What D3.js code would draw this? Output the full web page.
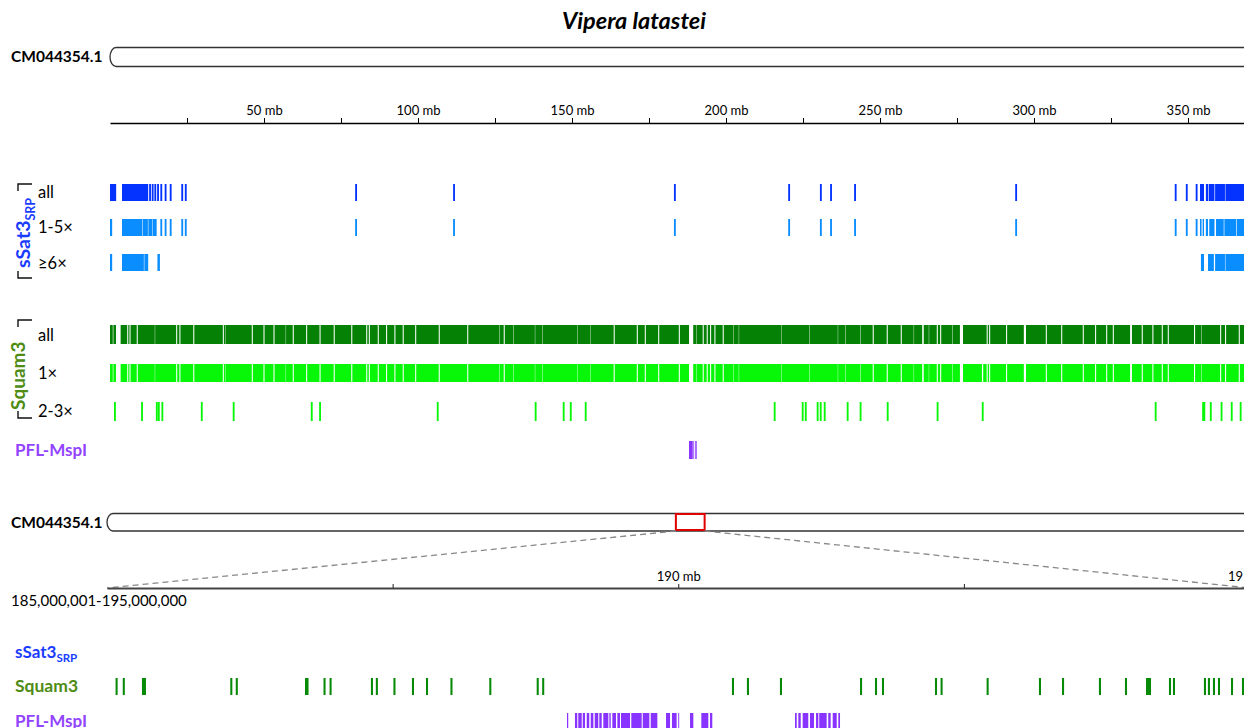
<!DOCTYPE html>
<html>
<head>
<meta charset="utf-8">
<script src="https://cdn.jsdelivr.net/npm/d3@7"></script>
<style>
  html, body { margin: 0; padding: 0; background: #fff; overflow: hidden; }
  svg { display: block; font-family: Lato, "Open Sans", sans-serif; }
</style>
</head>
<body>
<svg id="chart" width="1244" height="728"></svg>
<script>
// ---- data (positions in mb) ----
const chromName = 'CM044354.1';
const speciesName = 'Vipera latastei';
const chromLength = 385;
const zoomRegion = [185, 195];
const zoomRegionLabel = '185,000,001-195,000,000';

const topTickValues = [25, 50, 75, 100, 125, 150, 175, 200, 225, 250, 275, 300, 325, 350, 375];
const topTickLabeled = [50, 100, 150, 200, 250, 300, 350];
const zoomTickValues = [187.5, 190, 192.5, 195];
const zoomTickLabeled = [190, 195];

const sSat3RowLabels = ['all', '1-5×', '≥6×'];
const squam3RowLabels = ['all', '1×', '2-3×'];

const sSat3All = [[0, 2.0], [3.9, 12.4], [12.7, 13.3], [13.55, 14.15], [14.4, 15.0], [15.3, 15.9],
  [16.35, 16.95], [17.75, 18.35], [19.4, 20.0], [23.15, 23.75], [24.3, 24.9], [79.6, 80.2],
  [111.4, 112.0], [183.1, 183.7], [220.2, 220.8], [230.5, 231.1], [233.8, 234.4], [241.6, 242.2],
  [293.9, 294.5], [345.7, 346.3], [349.3, 349.9], [352.5, 353.1], [353.9, 355.2], [355.8, 356.5],
  [356.7, 358.6], [358.8, 362.0], [362.15, 375]];

const sSat3Low = [[0, 0.7], [3.9, 10.5], [10.65, 12.3], [12.45, 13.8], [13.95, 15.15], [16.35, 16.95],
  [17.75, 18.35], [19.4, 20.0], [23.15, 23.75], [24.3, 24.9], [79.6, 80.2], [111.4, 112.0],
  [183.1, 183.7], [220.2, 220.8], [230.5, 231.1], [233.8, 234.4], [241.6, 242.2], [293.9, 294.5],
  [345.7, 346.3], [349.3, 349.9], [352.5, 353.1], [353.9, 354.4], [354.75, 355.2], [355.8, 356.5],
  [356.9, 358.6], [359.1, 361.6], [361.8, 365.6], [365.8, 375]];

const sSat3High = [[0, 0.7], [3.9, 11.0], [11.15, 12.4], [15.4, 16.2], [354.2, 355.2], [356.5, 358.4],
  [358.8, 362.0], [362.15, 375]];

// Squam3 covers nearly the whole chromosome; listed here are the uncovered stretches
const squam3Span = [0, 375];
const squam3AllGaps = [[0.9, 1.1], [1.95, 3.45], [5.58, 5.92], [6.33, 6.67], [8.68, 9.02], [14.54, 14.66],
  [21.48, 21.82], [22.53, 22.87], [27.03, 27.37], [36.63, 36.97], [37.54, 37.66], [46.03, 46.37],
  [49.83, 50.17], [53.08, 53.42], [57.04, 57.16], [59.33, 59.67], [63.68, 64.02], [68.03, 68.37],
  [72.63, 72.97], [78.33, 78.67], [83.18, 83.52], [84.03, 84.37], [86.93, 87.27], [89.63, 89.97],
  [92.33, 92.67], [95.03, 95.37], [99.08, 99.42], [106.73, 107.07], [115.98, 116.32], [126.34, 126.46],
  [127.83, 128.17], [130.89, 131.01], [137.94, 138.06], [140.29, 140.41], [151.64, 151.76],
  [156.04, 156.16], [163.53, 163.87], [171.03, 171.37], [173.63, 173.97], [177.98, 178.32],
  [184.68, 185.02], [188.0, 189.35], [190.44, 190.56], [192.43, 192.77], [193.73, 194.07],
  [194.83, 195.17], [196.23, 196.57], [198.93, 199.27], [202.29, 202.41], [204.14, 204.26],
  [218.04, 218.16], [226.99, 227.11], [236.29, 236.41], [238.79, 238.91], [243.64, 243.76],
  [247.63, 247.97], [252.18, 252.52], [256.73, 257.07], [260.94, 261.06], [263.7, 264.2],
  [265.84, 265.96], [268.43, 268.77], [269.53, 269.87], [273.54, 273.66], [275.95, 276.95],
  [284.63, 284.97], [285.43, 285.77], [290.93, 291.27], [296.7, 297.4], [303.83, 304.17],
  [308.83, 309.17], [315.83, 316.17], [319.83, 320.17], [323.43, 323.77], [325.58, 325.92],
  [331.2, 331.8], [334.98, 335.32], [338.43, 338.77], [341.48, 341.82], [343.43, 343.77],
  [351.95, 352.3], [354.39, 354.51], [360.43, 360.77], [362.03, 362.37], [366.48, 366.82]];
const squam3OneExtraGaps = [[283.1, 283.5]];

const squam3Multi = [[1.3, 1.9], [10.1, 10.7], [14.9, 15.5], [15.55, 16.15], [16.7, 17.3], [29.5, 30.1],
  [39.85, 40.45], [65.2, 65.8], [67.9, 68.5], [106.1, 106.7], [137.9, 138.5], [147.0, 147.6],
  [149.3, 149.9], [154.15, 154.75], [215.5, 216.1], [224.6, 225.2], [225.6, 226.2], [229.45, 230.05],
  [230.45, 231.05], [231.75, 232.35], [239.2, 239.8], [243.4, 244.0], [252.2, 252.8], [268.4, 269.0],
  [283.05, 283.65], [339.2, 339.8], [354.6, 355.6], [357.1, 357.7], [360.6, 361.2], [363.9, 364.5],
  [366.8, 367.4]];

const pflOverview = [[188.0, 189.2], [189.4, 189.65], [190.03, 190.26], [190.36, 190.58]];

// zoomed window 185-195 mb
const squam3Detail = [[185.075, 185.093], [185.138, 185.156], [185.306, 185.341], [186.079, 186.097],
  [186.127, 186.145], [186.733, 186.764], [186.895, 186.913], [186.948, 186.966], [187.310, 187.328],
  [187.353, 187.371], [187.507, 187.525], [187.669, 187.687], [187.792, 187.810], [188.006, 188.024],
  [188.346, 188.364], [188.761, 188.779], [188.809, 188.827], [190.470, 190.488], [190.601, 190.619],
  [190.890, 190.908], [191.591, 191.609], [191.722, 191.740], [191.783, 191.801], [192.247, 192.265],
  [192.296, 192.314], [192.699, 192.717], [193.157, 193.175], [193.359, 193.377], [193.682, 193.700],
  [193.910, 193.928], [194.094, 194.138], [194.295, 194.313], [194.330, 194.348], [194.601, 194.619],
  [194.636, 194.654], [194.680, 194.698], [194.724, 194.742], [194.838, 194.856], [194.934, 194.952]];

const pflDetail = [[189.026, 189.037], [189.096, 189.116], [189.125, 189.155], [189.164, 189.184],
  [189.199, 189.221], [189.234, 189.257], [189.269, 189.300], [189.309, 189.330], [189.344, 189.388],
  [189.397, 189.409], [189.423, 189.455], [189.467, 189.490], [189.499, 189.578], [189.589, 189.680],
  [189.689, 189.747], [189.759, 189.817], [189.893, 189.928], [189.945, 189.986], [190.000, 190.008],
  [190.103, 190.132], [190.202, 190.263], [190.278, 190.298], [191.022, 191.037], [191.051, 191.072],
  [191.089, 191.138], [191.153, 191.188], [191.206, 191.226], [191.234, 191.299], [191.313, 191.334],
  [191.352, 191.387], [191.401, 191.416]];

// ---- colours ----
const C = {
  sSat3Label: '#1a3cff', sSat3All: '#0433ff', sSat3Sub: '#0a8dff',
  squam3Label: '#4e8c14', squam3All: '#058205', squam3Sub: '#08f708',
  pflLabel: '#9244ff', pfl: '#8833ff', squam3Detail: '#078a07'
};

const svg = d3.select('#chart');
const x = d3.scaleLinear().domain([0, chromLength]).range([110, 110 + chromLength * 3.08]);
const x2 = d3.scaleLinear().domain([0, chromLength]).range([107, 107 + chromLength * 3.075]);
const xz = d3.scaleLinear().domain(zoomRegion).range([107, 1249.5]);

function fillBetweenGaps(span, gaps) {
  const sorted = gaps.slice().sort((a, b) => a[0] - b[0]);
  const segs = [];
  let start = span[0];
  sorted.forEach(([a, b]) => {
    if (a > start) segs.push([start, a]);
    start = Math.max(start, b);
  });
  if (start < span[1]) segs.push([start, span[1]]);
  return segs;
}

function drawTrack(data, scale, y, h, color) {
  svg.append('g').selectAll('rect').data(data).enter().append('rect')
    .attr('x', d => scale(d[0]))
    .attr('width', d => Math.max(scale(d[1]) - scale(d[0]), 0.6))
    .attr('y', y)
    .attr('height', h)
    .attr('fill', color);
}

// title
svg.append('text')
  .attr('x', 634).attr('y', 29)
  .attr('text-anchor', 'middle')
  .attr('font-size', 23.5).attr('font-weight', 'bold').attr('font-style', 'italic')
  .text(speciesName);

// top chromosome
svg.append('text').attr('x', 11).attr('y', 62)
  .attr('font-size', 15.5).attr('font-weight', 'bold').text(chromName);
svg.append('rect')
  .attr('x', x(0)).attr('y', 47.5).attr('width', x(chromLength) - x(0)).attr('height', 19)
  .attr('rx', 6).attr('ry', 9.5)
  .attr('fill', '#fff').attr('stroke', '#333').attr('stroke-width', 1.3);

// top axis
const topAxis = svg.append('g')
  .attr('transform', 'translate(0,123)')
  .call(d3.axisTop(x).tickValues(topTickValues).tickSize(5).tickSizeOuter(0).tickPadding(3)
    .tickFormat(d => topTickLabeled.includes(d) ? d + ' mb' : ''));
topAxis.select('.domain').attr('stroke', '#000').attr('stroke-width', 1.3);
topAxis.selectAll('.tick line').attr('stroke', '#000').attr('stroke-width', 1);
topAxis.selectAll('text').attr('font-family', 'Lato, sans-serif').attr('font-size', 13).attr('fill', '#000');

// sSat3 tracks
drawTrack(sSat3All, x, 184, 17, C.sSat3All);
drawTrack(sSat3Low, x, 219, 17, C.sSat3Sub);
drawTrack(sSat3High, x, 254, 17, C.sSat3Sub);

// Squam3 tracks
drawTrack(fillBetweenGaps(squam3Span, squam3AllGaps), x, 325, 19, C.squam3All);
drawTrack(fillBetweenGaps(squam3Span, squam3AllGaps.concat(squam3OneExtraGaps)), x, 364, 18, C.squam3Sub);
drawTrack(squam3Multi, x, 402, 19, C.squam3Sub);

// PFL-MspI
drawTrack(pflOverview, x, 441, 18, C.pfl);

// row labels
[198, 233, 269].forEach((y, i) => {
  svg.append('text').attr('x', 38).attr('y', y).attr('font-size', 16.5).text(sSat3RowLabels[i]);
});
[341, 379, 417].forEach((y, i) => {
  svg.append('text').attr('x', 38).attr('y', y).attr('font-size', 16.5).text(squam3RowLabels[i]);
});

// group brackets
function bracket(y0, y1, yt, yb) {
  svg.append('path')
    .attr('d', `M32,${y0}H18V${yt}M18,${yb}V${y1}H32`)
    .attr('fill', 'none').attr('stroke', '#111').attr('stroke-width', 1.4);
}
bracket(184, 278, 191, 271);
bracket(320, 418, 327, 411);

const satLab = svg.append('text')
  .attr('transform', 'translate(30,268) rotate(-90)')
  .attr('fill', C.sSat3Label).attr('font-weight', 'bold').attr('font-size', 19.5);
satLab.append('tspan').text('sSat3');
satLab.append('tspan').attr('font-size', 12.5).attr('dy', 5).text('SRP');

svg.append('text')
  .attr('transform', 'translate(25,410) rotate(-90)')
  .attr('fill', C.squam3Label).attr('font-weight', 'bold').attr('font-size', 19)
  .text('Squam3');

svg.append('text').attr('x', 15).attr('y', 456)
  .attr('fill', C.pflLabel).attr('font-weight', 'bold').attr('font-size', 17).text('PFL-MspI');

// second chromosome with zoom box
svg.append('text').attr('x', 11).attr('y', 528)
  .attr('font-size', 15.5).attr('font-weight', 'bold').text(chromName);
svg.append('rect')
  .attr('x', x2(0)).attr('y', 513.5).attr('width', x2(chromLength) - x2(0)).attr('height', 17.5)
  .attr('rx', 6).attr('ry', 8.75)
  .attr('fill', '#fff').attr('stroke', '#333').attr('stroke-width', 1.3);
svg.append('rect')
  .attr('x', x2(zoomRegion[0])).attr('y', 514)
  .attr('width', x2(zoomRegion[1]) - x2(zoomRegion[0]) - 2).attr('height', 16)
  .attr('fill', 'none').attr('stroke', '#e00000').attr('stroke-width', 2);

// connecting dashed lines
[[x2(zoomRegion[0]), xz(zoomRegion[0])], [x2(zoomRegion[1]) - 2, xz(zoomRegion[1])]].forEach(([a, b]) => {
  svg.append('line')
    .attr('x1', a).attr('y1', 531).attr('x2', b).attr('y2', 588)
    .attr('stroke', '#888').attr('stroke-width', 1.3).attr('stroke-dasharray', '6,4');
});

// zoom axis
const zAxis = svg.append('g')
  .attr('transform', 'translate(0,588)')
  .call(d3.axisTop(xz).tickValues(zoomTickValues).tickSize(4).tickSizeOuter(0).tickPadding(3)
    .tickFormat(d => zoomTickLabeled.includes(d) ? d + ' mb' : ''));
zAxis.select('.domain').attr('stroke', '#444').attr('stroke-width', 1.8);
zAxis.selectAll('.tick line').attr('stroke', '#222');
zAxis.selectAll('text').attr('font-family', 'Lato, sans-serif').attr('font-size', 13).attr('fill', '#000');

svg.append('text').attr('x', 11).attr('y', 606).attr('font-size', 15).text(zoomRegionLabel);

// detail labels
const satDet = svg.append('text').attr('x', 15).attr('y', 658)
  .attr('fill', C.sSat3Label).attr('font-weight', 'bold').attr('font-size', 17);
satDet.append('tspan').text('sSat3');
satDet.append('tspan').attr('font-size', 11.5).attr('dy', 4).text('SRP');
svg.append('text').attr('x', 15).attr('y', 692)
  .attr('fill', C.squam3Label).attr('font-weight', 'bold').attr('font-size', 17.5).text('Squam3');
svg.append('text').attr('x', 15).attr('y', 727)
  .attr('fill', C.pflLabel).attr('font-weight', 'bold').attr('font-size', 17).text('PFL-MspI');

// detail tracks
drawTrack(squam3Detail, xz, 678, 17, C.squam3Detail);
drawTrack(pflDetail, xz, 713, 17, C.pfl);
</script>
</body>
</html>
